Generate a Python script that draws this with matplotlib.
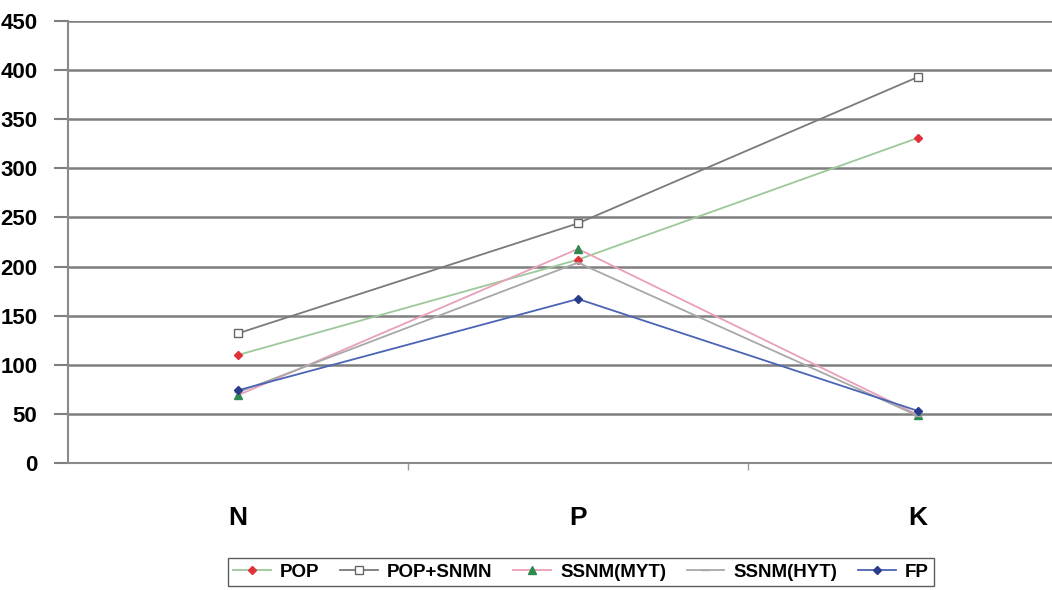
import matplotlib
matplotlib.use("Agg")
import matplotlib.pyplot as plt
import numpy as np

# Values
categories = ["N", "P", "K"]
pop = [110, 207, 331]
pop_snmn = [132, 244, 393]
ssnm_myt = [69, 218, 49]
ssnm_hyt = [72, 204, 48]
fp = [74, 167, 53]
y_ticks = [0, 50, 100, 150, 200, 250, 300, 350, 400, 450]

plt.rcParams['font.family'] = ['Liberation Sans', 'DejaVu Sans']
plt.rcParams['font.weight'] = 'bold'

fig = plt.figure(figsize=(10.52, 5.90), dpi=100)
# axes run past the right edge, as in the cropped reference
ax = fig.add_axes([68 / 1052, 1 - 463 / 590, 1020 / 1052, 442 / 590])

x = np.arange(len(categories))

ax.plot(x, pop, color='#9cc89a', lw=1.3, marker='D', ms=4.5,
        mfc='#e0303a', mec='#e0303a', label='POP', zorder=3)
ax.plot(x, pop_snmn, color='#7a7a7a', lw=1.3, marker='s', ms=6,
        mfc='white', mec='#666666', label='POP+SNMN', zorder=3)
ax.plot(x, ssnm_myt, color='#eaa0b8', lw=1.3, marker='^', ms=5.5,
        mfc='#2e8a50', mec='#2e8a50', label='SSNM(MYT)', zorder=3)
ax.plot(x, ssnm_hyt, color='#a8a8a8', lw=1.3, marker='_', ms=6,
        mfc='#a8a8a8', mec='#a8a8a8', label='SSNM(HYT)', zorder=3)
ax.plot(x, fp, color='#4a64b4', lw=1.3, marker='D', ms=4.5,
        mfc='#2a3c8c', mec='#2a3c8c', label='FP', zorder=3)

ax.set_xlim(-0.5, 2.5)
ax.set_ylim(0, 450)
ax.set_yticks(y_ticks)
ax.set_yticklabels([str(v) for v in y_ticks], fontsize=16, fontweight='bold')
ax.yaxis.grid(True, color='#7f7f7f', lw=1.8)
ax.set_axisbelow(True)

ax.set_xticks([0.5, 1.5])
ax.set_xticklabels(['', ''])
ax.tick_params(axis='x', direction='out', length=5, color='#9a9a9a', width=1)
ax.tick_params(axis='y', direction='out', length=10, color='#7f7f7f', width=1.5, pad=12)

for i, c in enumerate(categories):
    ax.text(i, -0.125, c, transform=ax.get_xaxis_transform(), ha='center', va='center',
            fontsize=19, fontweight='bold')

for s in ['top', 'right']:
    ax.spines[s].set_visible(False)
ax.spines['left'].set_color('#8a8a8a')
ax.spines['left'].set_linewidth(1.5)
ax.spines['bottom'].set_color('#8a8a8a')
ax.spines['bottom'].set_linewidth(1.5)

leg = fig.legend(loc='center', bbox_to_anchor=(581 / 1052, 1 - 572 / 590), ncol=5,
                 frameon=True, fancybox=False, handlelength=2.0,
                 handletextpad=0.5, columnspacing=1.1, borderpad=0.3,
                 prop={'weight': 'bold', 'size': 13.5})
leg.get_frame().set_edgecolor('#333333')
leg.get_frame().set_linewidth(1.0)

fig.savefig('out.png', dpi=100)
